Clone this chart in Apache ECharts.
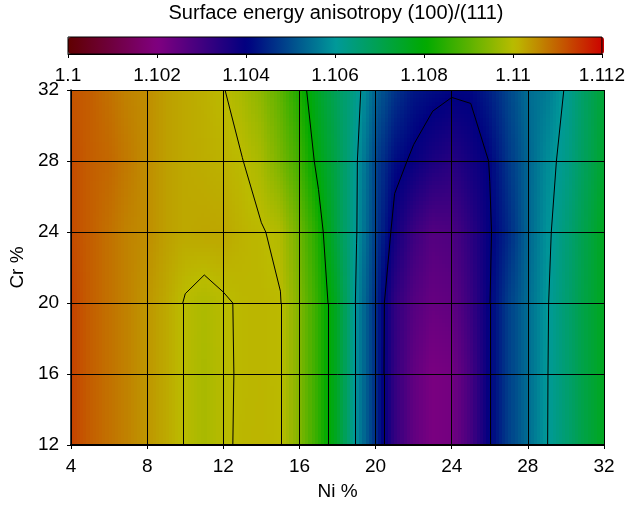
<!DOCTYPE html>
<html>
<head>
<meta charset="utf-8">
<script src="https://cdn.jsdelivr.net/npm/echarts@6/dist/echarts.min.js"></script>
<style>
  html, body { margin: 0; padding: 0; background: #fff; }
  #main { width: 628px; height: 506px; }
</style>
</head>
<body>
<div id="main"></div>
<script>
// Ni % columns and Cr % rows of the grid
var niValues = [4, 5, 6, 7, 8, 9, 10, 11, 12, 13, 14, 15, 16, 17, 18, 19, 20, 21, 22, 23, 24, 25, 26, 27, 28, 29, 30, 31, 32];
var crValues = [12, 16, 20, 24, 28, 32];

// surface energy anisotropy (100)/(111), one array per Cr row
var cr12 = [1.1113, 1.1110, 1.1108, 1.1106, 1.1104, 1.1102, 1.10997, 1.1098, 1.10995, 1.11005, 1.11007, 1.11002, 1.1094, 1.1085, 1.1075, 1.1059, 1.1046, 1.10325, 1.1025, 1.1021, 1.1022, 1.1029, 1.10399, 1.1048, 1.1054, 1.10598, 1.1065, 1.1071, 1.1076];
var cr16 = [1.1113, 1.1110, 1.1108, 1.1106, 1.1104, 1.1102, 1.10997, 1.1098, 1.10995, 1.11004, 1.11006, 1.11002, 1.1094, 1.1085, 1.1075, 1.1059, 1.1046, 1.10325, 1.1025, 1.1021, 1.1022, 1.1029, 1.10399, 1.1048, 1.1054, 1.10597, 1.1065, 1.1071, 1.1076];
var cr20 = [1.1113, 1.1110, 1.1108, 1.1106, 1.1104, 1.1102, 1.10997, 1.10985, 1.10996, 1.11004, 1.11006, 1.11002, 1.1094, 1.1085, 1.1075, 1.1059, 1.1046, 1.1033, 1.1027, 1.1024, 1.1025, 1.1031, 1.10399, 1.1048, 1.1054, 1.10595, 1.1065, 1.1071, 1.1076];
var cr24 = [1.1112, 1.1110, 1.1108, 1.1106, 1.1105, 1.1103, 1.1102, 1.11023, 1.11022, 1.1101, 1.11003, 1.1099, 1.1092, 1.1083, 1.1071, 1.10602, 1.1048, 1.1038, 1.1031, 1.1027, 1.1028, 1.1033, 1.10395, 1.1045, 1.1053, 1.10588, 1.1064, 1.1070, 1.1076];
var cr28 = [1.1112, 1.1110, 1.1109, 1.1107, 1.1105, 1.1103, 1.1102, 1.11015, 1.1101, 1.11001, 1.1098, 1.1093, 1.1087, 1.1078, 1.1070, 1.10605, 1.1049, 1.10417, 1.10391, 1.1036, 1.1034, 1.1037, 1.10402, 1.1047, 1.1053, 1.1058, 1.1062, 1.1068, 1.1074];
var cr32 = [1.1111, 1.1110, 1.1108, 1.1106, 1.1105, 1.1103, 1.1102, 1.11012, 1.11002, 1.1098, 1.1095, 1.1090, 1.1083, 1.1075, 1.1068, 1.1062, 1.1053, 1.1047, 1.1043, 1.10417, 1.10407, 1.10407, 1.1044, 1.1049, 1.1054, 1.1056, 1.10605, 1.1067, 1.1073];

var contourLevels = [1.104, 1.106, 1.108, 1.110];
var colorStops = ['#600000', '#800080', '#000080', '#009999', '#00aa00', '#bbbb00', '#cc0000'];
var vMin = 1.1, vMax = 1.112;

var rows = [cr12, cr16, cr20, cr24, cr28, cr32];
var FONT = 'Liberation Sans, Arial, sans-serif';

var stopRgb = colorStops.map(function (c) {
  return [parseInt(c.substr(1, 2), 16), parseInt(c.substr(3, 2), 16), parseInt(c.substr(5, 2), 16)];
});
// same linear ramp as the visualMap bar
function colorOf(v) {
  var t = (v - vMin) / (vMax - vMin);
  t = Math.max(0, Math.min(1, t));
  var pos = t * (stopRgb.length - 1);
  var k = Math.min(Math.floor(pos), stopRgb.length - 2);
  var f = pos - k;
  var a = stopRgb[k], b = stopRgb[k + 1];
  return 'rgb(' + Math.round(a[0] + (b[0] - a[0]) * f) + ',' +
    Math.round(a[1] + (b[1] - a[1]) * f) + ',' +
    Math.round(a[2] + (b[2] - a[2]) * f) + ')';
}

// one item per grid cell (lower-left node)
var cells = [];
for (var j = 0; j < crValues.length - 1; j++) {
  for (var i = 0; i < niValues.length - 1; i++) {
    cells.push([niValues[i], crValues[j], rows[j][i], i, j]);
  }
}

// marching squares for the contour lines
function contourSegments(level) {
  var segs = [];
  function cross(x1, y1, v1, x2, y2, v2) {
    var f = (level - v1) / (v2 - v1);
    return [x1 + (x2 - x1) * f, y1 + (y2 - y1) * f];
  }
  for (var j = 0; j < crValues.length - 1; j++) {
    for (var i = 0; i < niValues.length - 1; i++) {
      var x0 = niValues[i], x1 = niValues[i + 1], y0 = crValues[j], y1 = crValues[j + 1];
      var va = rows[j][i], vb = rows[j][i + 1], vc = rows[j + 1][i + 1], vd = rows[j + 1][i];
      var ea = va >= level, eb = vb >= level, ec = vc >= level, ed = vd >= level;
      var bottom = ea !== eb ? cross(x0, y0, va, x1, y0, vb) : null;
      var right = eb !== ec ? cross(x1, y0, vb, x1, y1, vc) : null;
      var top = ec !== ed ? cross(x1, y1, vc, x0, y1, vd) : null;
      var left = ed !== ea ? cross(x0, y1, vd, x0, y0, va) : null;
      var pts = [bottom, right, top, left].filter(function (p) { return p; });
      if (pts.length === 2) {
        segs.push({ coords: pts });
      } else if (pts.length === 4) {
        var center = (va + vb + vc + vd) / 4 >= level;
        if (center === ea) {
          segs.push({ coords: [bottom, right] });
          segs.push({ coords: [top, left] });
        } else {
          segs.push({ coords: [left, bottom] });
          segs.push({ coords: [right, top] });
        }
      }
    }
  }
  return segs;
}
var contourData = [];
contourLevels.forEach(function (lv) {
  contourData = contourData.concat(contourSegments(lv));
});

var myChart = echarts.init(document.getElementById('main'));
var option = {
  animation: false,
  backgroundColor: '#fff',
  title: {
    text: 'Surface energy anisotropy (100)/(111)',
    left: 336,
    top: 3,
    padding: 0,
    textAlign: 'center',
    textStyle: { fontFamily: FONT, fontSize: 20, fontWeight: 'normal', color: '#000' }
  },
  visualMap: {
    type: 'continuous',
    orient: 'horizontal',
    min: vMin,
    max: vMax,
    left: 68,
    top: 37,
    itemWidth: 17,
    itemHeight: 536,
    padding: 0,
    calculable: false,
    hoverLink: false,
    seriesIndex: 0,
    dimension: 2,
    inRange: { color: colorStops }
  },
  grid: [
    { left: 68, top: 90, width: 536, height: 356 },
    { left: 68, top: 37, width: 536, height: 17, show: true, borderColor: '#000', borderWidth: 1, backgroundColor: 'transparent', z: 10 }
  ],
  xAxis: [
    {
      type: 'value', gridIndex: 0, min: 4, max: 32, interval: 4, z: 10,
      name: 'Ni %', nameLocation: 'middle', nameGap: 37,
      nameTextStyle: { fontFamily: FONT, fontSize: 19, color: '#000' },
      axisLine: { lineStyle: { color: '#000', width: 2 } },
      axisTick: { length: 4, lineStyle: { color: '#000' } },
      axisLabel: { fontFamily: FONT, fontSize: 19, color: '#000', margin: 12 },
      splitLine: { show: true, lineStyle: { color: '#000', width: 1 } }
    },
    {
      type: 'value', gridIndex: 1, min: vMin, max: vMax, interval: 0.002, z: 10,
      axisLine: { lineStyle: { color: '#000', width: 1 } },
      axisTick: { length: 4, lineStyle: { color: '#000' } },
      axisLabel: { fontFamily: FONT, fontSize: 19, color: '#000', margin: 12 },
      splitLine: { show: false }
    }
  ],
  yAxis: [
    {
      type: 'value', gridIndex: 0, min: 12, max: 32, interval: 4, z: 10,
      name: 'Cr %', nameLocation: 'middle', nameGap: 42,
      nameTextStyle: { fontFamily: FONT, fontSize: 19, color: '#000' },
      axisLine: { show: true, lineStyle: { color: '#000', width: 1.5 } },
      axisTick: { show: true, length: 4, lineStyle: { color: '#000' } },
      axisLabel: { fontFamily: FONT, fontSize: 19, color: '#000', margin: 12 },
      splitLine: { show: true, lineStyle: { color: '#000', width: 1 } }
    },
    { type: 'value', gridIndex: 1, min: 0, max: 1, show: false }
  ],
  series: [
    {
      type: 'custom',
      xAxisIndex: 0,
      yAxisIndex: 0,
      clip: true,
      silent: true,
      data: cells,
      renderItem: function (params, api) {
        var i = api.value(3), j = api.value(4);
        var x0 = niValues[i], x1 = niValues[i + 1], y0 = crValues[j], y1 = crValues[j + 1];
        var v00 = rows[j][i], v10 = rows[j][i + 1], v01 = rows[j + 1][i], v11 = rows[j + 1][i + 1];
        var nx = 6, ny = 18, children = [];
        for (var a = 0; a < nx; a++) {
          for (var b = 0; b < ny; b++) {
            var u = (a + 0.5) / nx, w = (b + 0.5) / ny;
            var v = v00 * (1 - u) * (1 - w) + v10 * u * (1 - w) + v01 * (1 - u) * w + v11 * u * w;
            var p0 = api.coord([x0 + (x1 - x0) * a / nx, y0 + (y1 - y0) * (b + 1) / ny]);
            var p1 = api.coord([x0 + (x1 - x0) * (a + 1) / nx, y0 + (y1 - y0) * b / ny]);
            var px = Math.floor(p0[0]), py = Math.floor(p0[1]);
            children.push({
              type: 'rect',
              shape: { x: px, y: py, width: Math.ceil(p1[0]) - px, height: Math.ceil(p1[1]) - py },
              style: { fill: colorOf(v) }
            });
          }
        }
        return { type: 'group', children: children };
      }
    },
    {
      type: 'lines',
      coordinateSystem: 'cartesian2d',
      xAxisIndex: 0,
      yAxisIndex: 0,
      silent: true,
      z: 5,
      lineStyle: { color: '#000', width: 1, opacity: 1 },
      data: contourData
    }
  ]
};
myChart.setOption(option);
</script>
</body>
</html>
